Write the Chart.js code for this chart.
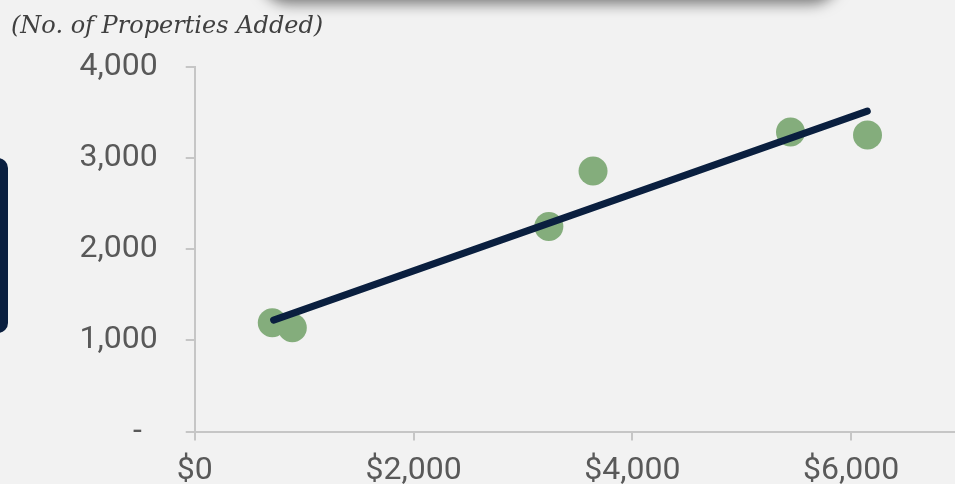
<!DOCTYPE html>
<html>
<head>
<meta charset="utf-8">
<script src="https://cdn.jsdelivr.net/npm/chart.js@4"></script>
<style>
  html, body { margin: 0; padding: 0; background: #f2f2f2; }
  body { width: 955px; height: 484px; overflow: hidden; position: relative; }
  #wrap { position: absolute; left: 0; top: 0; }
  #title {
    position: absolute; left: 11px; top: 11px;
    font-family: "DejaVu Serif", serif; font-style: italic;
    font-size: 24px; color: #404040; white-space: nowrap;
  }
  #topbox {
    position: absolute; left: 260px; top: -60px; width: 580px; height: 58px;
    background: #f2f2f2; border-radius: 30px;
    box-shadow: 0 6px 14px rgba(0,0,0,0.5);
  }
  #sidebox {
    position: absolute; left: -20px; top: 158px; width: 28px; height: 175px;
    background: #0a1f3f; border-radius: 10px;
  }
</style>
</head>
<body>
<div id="topbox"></div>
<div id="sidebox"></div>
<div id="wrap"><canvas id="chart" width="1129" height="501"></canvas></div>
<div id="title">(No. of Properties Added)</div>
<script>
// spend per point ($) and properties added
let spend = [709, 892, 3237, 3641, 5446, 6150];
let added = [1194, 1139, 2251, 2859, 3286, 3255];

// trend line end points
let trendX = [721, 6148];
let trendY = [1223, 3516];

let xTicks = [0, 2000, 4000, 6000, 8000];
let yTicks = [0, 1000, 2000, 3000, 4000];

function yLabel(v) {
    if (v === 0) return "-  ";
    return v.toLocaleString("en-US");
}

function xLabel(v) {
    return "$" + v.toLocaleString("en-US");
}

let axisColor = "#c6c6c6";
let labelFont = { family: "Roboto", size: 32 };

new Chart(document.getElementById("chart"), {
    type: 'scatter',
    data: {
        datasets: [
            {
                type: 'line',
                data: trendX.map((x, i) => ({ x: x, y: trendY[i] })),
                borderColor: "#0a1f3f",
                borderWidth: 7,
                borderCapStyle: 'round',
                pointRadius: 0,
                fill: false
            },
            {
                data: spend.map((x, i) => ({ x: x, y: added[i] })),
                backgroundColor: "#84ad7c",
                borderWidth: 0,
                pointRadius: 14.5,
                pointHoverRadius: 14.5
            }
        ]
    },
    options: {
        responsive: false,
        animation: false,
        maintainAspectRatio: false,
        layout: { padding: { left: 51.5, top: 67, right: 0, bottom: 0 } },
        plugins: { legend: { display: false }, tooltip: { enabled: false } },
        scales: {
            x: {
                type: 'linear',
                min: 0, max: 8000,
                afterBuildTicks: axis => { axis.ticks = xTicks.map(v => ({ value: v })); },
                ticks: { callback: xLabel, color: "#595959", font: labelFont, padding: 11, maxRotation: 0 },
                grid: { drawOnChartArea: false, color: axisColor, lineWidth: 2, tickLength: 9 },
                border: { color: axisColor, width: 2 }
            },
            y: {
                min: 0, max: 4000,
                afterBuildTicks: axis => { axis.ticks = yTicks.map(v => ({ value: v })); },
                ticks: { callback: yLabel, color: "#595959", font: labelFont, padding: 28 },
                grid: { drawOnChartArea: false, color: axisColor, lineWidth: 2, tickLength: 9 },
                border: { color: axisColor, width: 2 }
            }
        }
    }
});
</script>
</body>
</html>
